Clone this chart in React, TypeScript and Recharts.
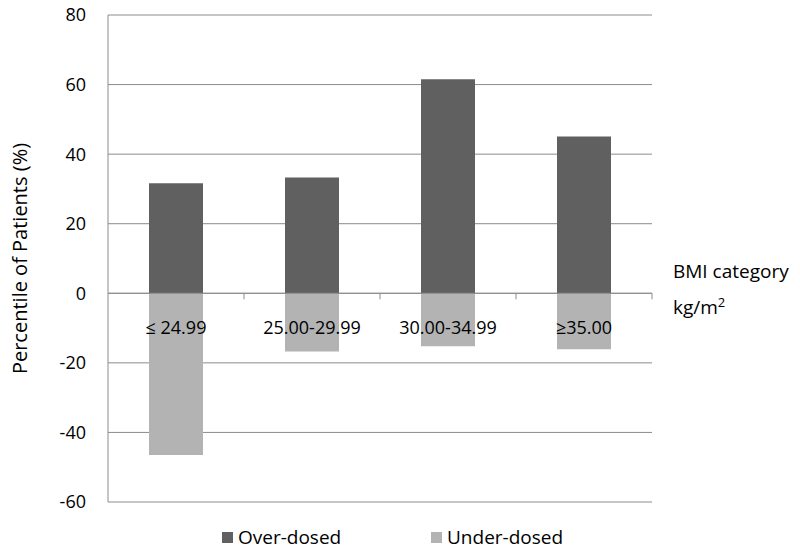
import { BarChart, Bar, XAxis, YAxis, CartesianGrid, Legend, ReferenceLine, LabelList, Label } from 'recharts'

const categories = ['≤ 24.99', '25.00-29.99', '30.00-34.99', '≥35.00']
const overDosed = [31.6, 33.3, 61.5, 45.1]
const underDosed = [-46.5, -16.7, -15.2, -16.1]
const yTicks = [-60, -40, -20, 0, 20, 40, 60, 80]

const FONT = '"Open Sans", sans-serif'
const GRID = '#8c8c8c'
const DARK = '#606060'
const LIGHT = '#b3b3b3'

const W = 800
const H = 551
const PLOT_LEFT = 108
const PLOT_RIGHT = 652
const HALF_BAND = (PLOT_RIGHT - PLOT_LEFT) / categories.length / 2

const data = categories.map((c, i) => ({
  name: c,
  over: overDosed[i],
  under: underDosed[i],
}))

// category labels sit under the zero line, plus the little boundary ticks
function CategoryLabel(props: any) {
  const { x, y, width, height, index } = props
  const zeroY = Math.min(y, y + height)
  const cx = x + width / 2
  return (
    <g>
      <line x1={cx + HALF_BAND} x2={cx + HALF_BAND} y1={zeroY} y2={zeroY + 6} stroke={GRID} strokeWidth={1} />
      <text x={cx} y={zeroY + 34} textAnchor="middle" dominantBaseline="central"
        fontFamily={FONT} fontSize={18} fill="#000">
        {categories[index]}
      </text>
    </g>
  )
}

function AxisTitle(props: any) {
  const { viewBox } = props
  const cx = 19
  const cy = viewBox.y + viewBox.height / 2
  return (
    <text x={cx} y={cy} transform={`rotate(-90 ${cx} ${cy})`} textAnchor="middle"
      dominantBaseline="central" fontFamily={FONT} fontSize={20} fill="#000">
      Percentile of Patients (%)
    </text>
  )
}

function BmiNote(props: any) {
  const { viewBox } = props
  const x = viewBox.x + viewBox.width + 21
  const y = viewBox.y
  return (
    <g fontFamily={FONT} fontSize={19} fill="#000">
      <text x={x} y={y - 22} dominantBaseline="central">BMI category</text>
      <text x={x} y={y + 14} dominantBaseline="central">
        kg/m<tspan fontSize={13} dy={-5}>2</tspan>
      </text>
    </g>
  )
}

function LegendBox() {
  const items = [
    { label: 'Over-dosed', color: DARK },
    { label: 'Under-dosed', color: LIGHT },
  ]
  return (
    <div style={{ height: 49, position: 'relative', fontFamily: FONT, fontSize: 19, color: '#000' }}>
      {items.map((it, i) => (
        <div key={it.label} style={{
          position: 'absolute', top: 20, left: i === 0 ? 222 : 431,
          display: 'flex', alignItems: 'center', height: 30, whiteSpace: 'nowrap',
        }}>
          <span style={{ width: 11, height: 11, background: it.color, marginRight: 5, display: 'inline-block' }} />
          {it.label}
        </div>
      ))}
    </div>
  )
}

export default function App() {
  return (
    <div style={{ position: 'absolute', left: 0, top: 0, width: W, height: H, background: '#fff' }}>
      <BarChart width={W} height={H} data={data} stackOffset="sign"
        margin={{ top: 15, right: W - PLOT_RIGHT, left: 0, bottom: 0 }}>
        <CartesianGrid vertical={false} stroke={GRID} strokeWidth={1} />
        <XAxis dataKey="name" hide />
        <YAxis
          width={PLOT_LEFT}
          domain={[-60, 80]}
          ticks={yTicks}
          interval={0}
          tickLine={false}
          axisLine={{ stroke: GRID }}
          tickMargin={16}
          tick={{ fill: '#000', fontSize: 18, fontFamily: FONT }}
        >
          <Label content={AxisTitle} />
        </YAxis>
        <ReferenceLine y={0} stroke={GRID}>
          <Label content={BmiNote} />
        </ReferenceLine>
        <Legend verticalAlign="bottom" content={LegendBox} />
        <Bar dataKey="over" stackId="a" fill={DARK} barSize={54} isAnimationActive={false} />
        <Bar dataKey="under" stackId="a" fill={LIGHT} barSize={54} isAnimationActive={false}>
          <LabelList dataKey="under" content={CategoryLabel} />
        </Bar>
      </BarChart>
    </div>
  )
}
